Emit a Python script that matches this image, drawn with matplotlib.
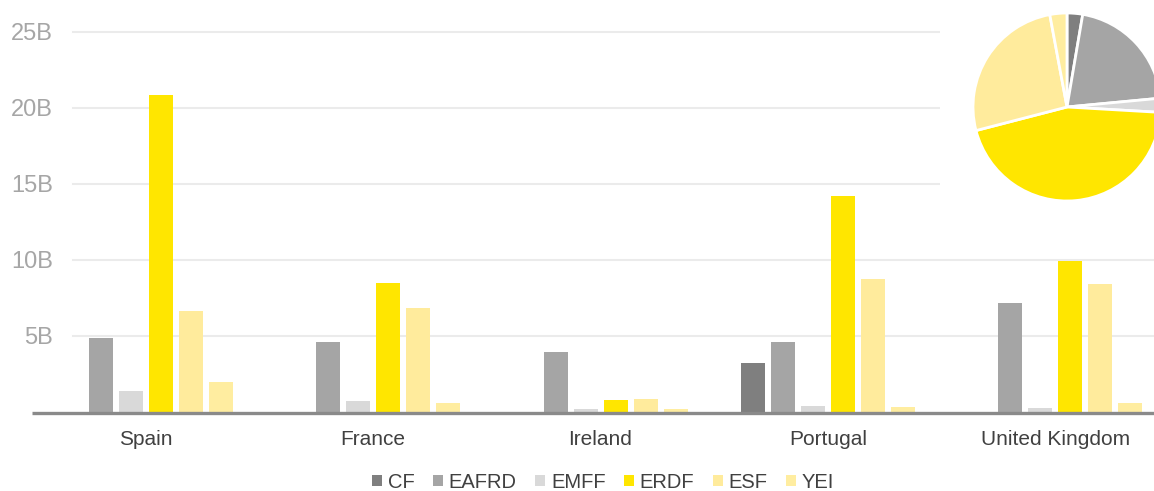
import matplotlib
matplotlib.use("Agg")
import matplotlib.pyplot as plt
import matplotlib.transforms as mtransforms
from matplotlib.patches import Patch
import numpy as np

plt.rcParams['font.family'] = ['Liberation Sans', 'DejaVu Sans']

countries = ["Spain", "France", "Ireland", "Portugal", "United Kingdom"]
funds = ["CF", "EAFRD", "EMFF", "ERDF", "ESF", "YEI"]
colors = ["#7F7F7F", "#A5A5A5", "#D9D9D9", "#FFE600", "#FFEB9C", "#FFEDA0"]

# values in billions, per fund, one entry per country
cf = [0.0, 0.0, 0.0, 3.23, 0.0]
eafrd = [4.83, 4.60, 3.90, 4.60, 7.14]
emff = [1.39, 0.70, 0.18, 0.40, 0.24]
erdf = [20.84, 8.50, 0.77, 14.20, 9.94]
esf = [6.62, 6.85, 0.84, 8.73, 8.39]
yei = [1.98, 0.55, 0.15, 0.30, 0.55]
series = [cf, eafrd, emff, erdf, esf, yei]

W, H = 1154, 491
fig = plt.figure(figsize=(W / 100, H / 100), dpi=100)

# main bar axes (right end runs past the image edge, like the original)
group_px = 227.4
ax = fig.add_axes([32 / W, (H - 411.7) / H, 5 * group_px / W, 379.7 / H])
ax.set_xlim(-0.5, 4.5)
ax.set_ylim(0, 25)

step = 30 / group_px
width = 24 / group_px
x = np.arange(len(countries))
for k, (vals, col) in enumerate(zip(series, colors)):
    ax.bar(x + (k - 2.5) * step, vals, width=width, color=col,
           edgecolor="none", zorder=3)

for s in ax.spines.values():
    s.set_visible(False)

grid_start = (73 - 32) / (5 * group_px)
for yv in [5, 10, 15, 20, 25]:
    ax.axhline(yv, xmin=grid_start, color="#EBEBEB", lw=1.5, zorder=0, clip_on=False)

# baseline sits just under zero so small bars stay visible
base_lw = 2.4
shift = mtransforms.ScaledTranslation(0, -base_lw / 2 / 72, fig.dpi_scale_trans)
ax.plot([0, 1], [0, 0], color="#8A8A8A", lw=base_lw, zorder=4, clip_on=False,
        solid_capstyle="butt", transform=ax.get_yaxis_transform() + shift)

ax.set_yticks([5, 10, 15, 20, 25])
ax.set_yticklabels(["5B", "10B", "15B", "20B", "25B"])
ax.tick_params(axis="y", length=0, pad=-15, labelsize=17, labelcolor="#A6A6A6")
ax.set_xticks(x)
ax.set_xticklabels(countries)
ax.tick_params(axis="x", length=0, pad=13, labelsize=15, labelcolor="#404040")

# pie inset with white background that hides the upper gridlines
cx, cy, r = 1067, 107, 94
pax = fig.add_axes([940 / W, (H - 220) / H, 240 / W, 220 / H])
totals = [sum(v) for v in series]
pax.pie(totals, colors=colors, startangle=90, counterclock=False, radius=r,
        wedgeprops=dict(edgecolor="white", linewidth=2))
pax.set_frame_on(True)
pax.set_facecolor("white")
for s in pax.spines.values():
    s.set_visible(False)
pax.set_xticks([])
pax.set_yticks([])
pax.set_xlim(940 - cx, 1180 - cx)
pax.set_ylim(-(220 - cy), cy)
pax.set_aspect("auto")

handles = [Patch(facecolor=c, edgecolor="none", label=f) for f, c in zip(funds, colors)]
fig.legend(handles=handles, loc="center", bbox_to_anchor=(603 / W, 1 - 482 / H),
           ncol=6, frameon=False, fontsize=14.5, handlelength=0.5, handleheight=0.5,
           handletextpad=0.3, columnspacing=0.9, labelcolor="#404040")

fig.savefig("out.png", dpi=100)
